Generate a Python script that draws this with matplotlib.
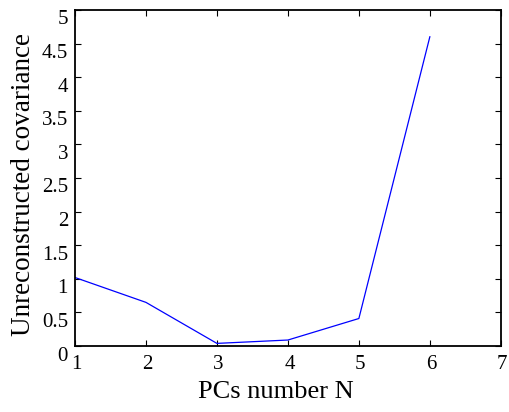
import matplotlib.pyplot as plt
import matplotlib.transforms as mtransforms

pcs = [1, 2, 3, 4, 5, 6]
cov = [1.02, 0.65, 0.04, 0.09, 0.41, 4.60]

x_ticks = [1, 2, 3, 4, 5, 6, 7]
y_ticks = [0, 0.5, 1, 1.5, 2, 2.5, 3, 3.5, 4, 4.5, 5]
y_labels = ['0', '0.5', '1', '1.5', '2', '2.5', '3', '3.5', '4', '4.5', '5']

plt.rcParams['font.family'] = ['Liberation Serif', 'DejaVu Serif']

fig = plt.figure(figsize=(5.10, 4.12), dpi=100)
ax = fig.add_axes([0.147, 0.160, 0.835, 0.816])
ax.plot(pcs, cov, color='#0000ff', linewidth=0.9)

ax.set_xlim(1, 7)
ax.set_ylim(0, 5)
ax.set_xticks(x_ticks)
ax.set_yticks(y_ticks)
ax.set_yticklabels(y_labels)
ax.tick_params(direction='in', top=True, right=True, length=4, width=0.8,
               labelsize=15)
ax.tick_params(axis='x', pad=6.5)
ax.tick_params(axis='y', pad=5)
for s in ax.spines.values():
    s.set_linewidth(1.3)

# matlab-ish: y tick labels sit a bit below their ticks
shift_y = mtransforms.ScaledTranslation(0, -7.5 / 100, fig.dpi_scale_trans)
for lab in ax.get_yticklabels():
    lab.set_transform(lab.get_transform() + shift_y)
shift_x = mtransforms.ScaledTranslation(1.5 / 100, 0, fig.dpi_scale_trans)
for lab in ax.get_xticklabels():
    lab.set_transform(lab.get_transform() + shift_x)

ax.set_xlabel('PCs number N', fontsize=19)
ax.set_ylabel('Unreconstructed covariance', fontsize=19.5)
ax.xaxis.set_label_coords(0.471, -0.104)
ax.yaxis.set_label_coords(-0.0915, 0.482)

fig.savefig('out.png', dpi=100)
